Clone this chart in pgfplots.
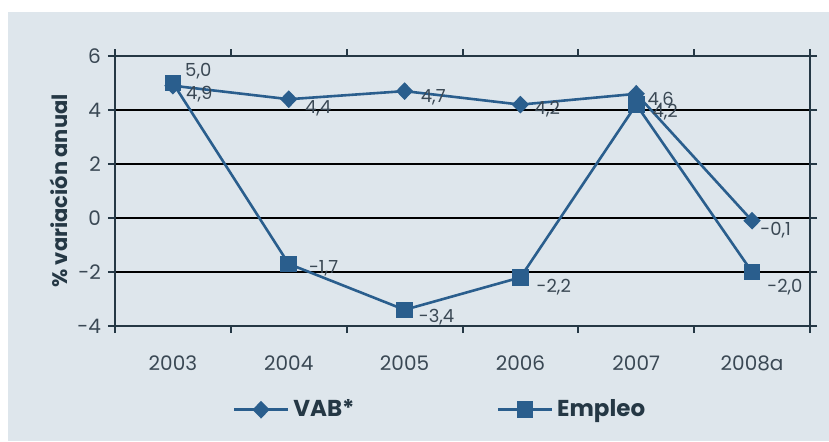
\documentclass[border=0pt]{standalone}
\usepackage{fontspec}
\setmainfont{Poppins}
\usepackage{pgfplots}
\pgfplotsset{compat=1.18}
\usepackage{pgfplotstable}
\definecolor{bgpanel}{HTML}{DEE6EC}
\definecolor{serie}{HTML}{2A5E8D}
\definecolor{axisdark}{HTML}{253845}
\definecolor{txt}{HTML}{3A4854}

\pgfplotstableread{
x y lab dx dy
0 4.9 {4,9} 5.5 -4.2
1 4.4 {4,4} 7 -4.4
2 4.7 {4,7} 7 -3
3 4.2 {4,2} 6 -2.2
4 4.6 {4,6} 4.5 -3.1
5 -0.1 {-0,1} 3 -4.6
}\vab

\pgfplotstableread{
x y lab dx dy
0 5.0 {5,0} 5 6
1 -1.7 {-1,7} 9 -2
2 -3.4 {-3,4} 6 -3.6
3 -2.2 {-2,2} 7 -4.8
4 4.2 {4,2} 7 -3.7
5 -2.0 {-2,0} 6.5 -7.5
}\empleo

\begin{document}
\begin{tikzpicture}
\useasboundingbox (0,0) rectangle (414.5pt,220.5pt);
\fill[white] (0,0) rectangle (414.5pt,220.5pt);
\fill[bgpanel] (4pt,0) rectangle (414.5pt,214.5pt);
\begin{axis}[
  at={(57.5pt,57.5pt)}, anchor=south west,
  scale only axis, width=347.5pt, height=135pt,
  xmin=-0.5, xmax=5.5, ymin=-4, ymax=6,
  xtick={-0.5,0.5,...,5.5},
  x tick label as interval,
  xticklabels={2003,2004,2005,2006,2007,2008a},
  ytick={-4,-2,...,6},
  tick align=outside,
  major tick length=3.5pt,
  tick style={axisdark, line width=1pt},
  axis line style={axisdark, line width=1.1pt},
  ymajorgrids,
  major grid style={black, line width=1.1pt},
  /pgf/number format/assume math mode=true,
  /pgf/number format/use comma,
  tick label style={font=\fontsize{10}{12}\selectfont, text=txt},
  xticklabel style={yshift=-8pt},
  ylabel={\bfseries\% variación anual},
  ylabel style={font=\fontsize{10.5}{12}\selectfont, text=axisdark, yshift=-2pt},
  every axis plot/.append style={serie, line width=1.3pt},
  point meta=explicit symbolic,
  nodes near coords,
  visualization depends on={\thisrow{dx}\as\dx},
  visualization depends on={\thisrow{dy}\as\dy},
  every node near coord/.append style={anchor=west, xshift=\dx pt, yshift=\dy pt, font=\fontsize{9}{10}\selectfont, text=txt, inner sep=0.5pt},
  legend style={at={(0.469,-0.31)}, anchor=center, draw=none, fill=none,
    font=\fontsize{11.5}{13}\selectfont\bfseries, text=axisdark,
    /tikz/every even column/.append style={column sep=69pt}},
  legend columns=2,
  legend image code/.code={
    \draw[mark repeat=2,mark phase=2] plot coordinates {(0pt,0pt) (13.5pt,0pt) (27pt,0pt)};},
  clip=false,
]
\addplot[mark=diamond*, mark size=3.5pt, mark options={xscale=1.3, solid}] table[x=x, y=y, meta=lab] {\vab};
\addlegendentry{VAB*}
\addplot[mark=square*, mark size=3.5pt, mark options={solid}] table[x=x, y=y, meta=lab] {\empleo};
\addlegendentry{Empleo}
\end{axis}
\end{tikzpicture}
\end{document}
